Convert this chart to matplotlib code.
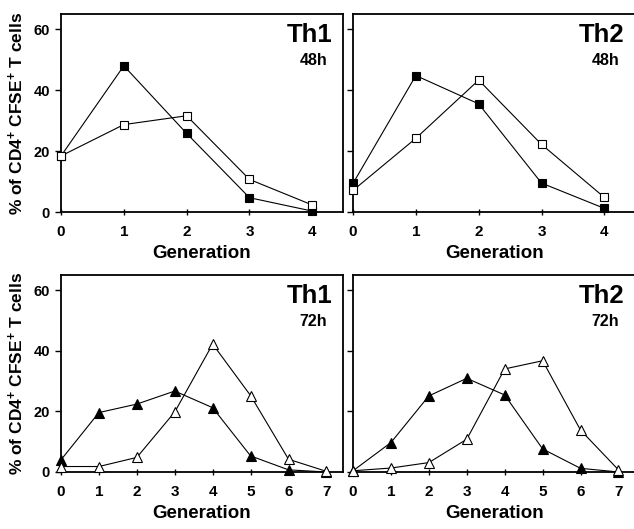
import matplotlib
matplotlib.use("Agg")
import matplotlib.pyplot as plt
import numpy as np

plt.rcParams['font.family'] = ['Liberation Sans', 'DejaVu Sans']
plt.rcParams['font.weight'] = 'bold'
plt.rcParams['mathtext.fontset'] = 'custom'
plt.rcParams['mathtext.rm'] = 'Liberation Sans:bold'
plt.rcParams['mathtext.bf'] = 'Liberation Sans:bold'
plt.rcParams['mathtext.it'] = 'Liberation Sans:bold'

# ---------- DATA ----------
gen_48 = [0, 1, 2, 3, 4]
gen_72 = [0, 1, 2, 3, 4, 5, 6, 7]

th1_48_filled = [18.4, 48.0, 25.8, 4.7, 0.3]
th1_48_open = [18.4, 28.7, 31.6, 10.7, 2.3]
th2_48_filled = [9.4, 44.8, 35.5, 9.5, 1.2]
th2_48_open = [7.1, 24.2, 43.3, 22.2, 4.8]

th1_72_filled = [4.0, 19.6, 22.4, 26.7, 21.2, 5.3, 0.7, 0.0]
th1_72_open = [1.8, 1.8, 4.8, 19.8, 42.2, 25.2, 4.2, 0.2]
th2_72_filled = [0.4, 9.7, 25.1, 30.9, 25.4, 7.6, 1.2, 0.0]
th2_72_open = [0.4, 1.3, 3.1, 10.8, 34.0, 36.7, 13.8, 0.7]

yticks = [0, 20, 40, 60]

panels = [
    # (rect, x, filled, open, marker, title, time, ylabel, xmax)
    ([0.0962, 0.5992, 0.445, 0.3743], gen_48, th1_48_filled, th1_48_open, 's', 'Th1', '48h', True, 4.49),
    ([0.5568, 0.5992, 0.445, 0.3743], gen_48, th2_48_filled, th2_48_open, 's', 'Th2', '48h', False, 4.49),
    ([0.0962, 0.1078, 0.445, 0.3724], gen_72, th1_72_filled, th1_72_open, '^', 'Th1', '72h', True, 7.44),
    ([0.5568, 0.1078, 0.445, 0.3724], gen_72, th2_72_filled, th2_72_open, '^', 'Th2', '72h', False, 7.44),
]

fig = plt.figure(figsize=(6.34, 5.29), dpi=100, facecolor='white')

for rect, x, filled, opn, mk, title, tlabel, show_ylabel, xmax in panels:
    ax = fig.add_axes(rect)
    ms = 6.2 if mk == 's' else 7.5
    ax.plot(x, filled, color='black', lw=0.8, marker=mk, ms=ms,
            mfc='black', mec='black', mew=0.8, clip_on=False, zorder=3)
    ax.plot(x, opn, color='black', lw=0.8, marker=mk, ms=ms,
            mfc='white', mec='black', mew=0.8, clip_on=False, zorder=4)

    ax.set_xlim(0, xmax)
    ax.set_ylim(0, 65)
    ax.set_xticks(x)
    ax.set_yticks(yticks)
    if show_ylabel:
        ax.set_yticklabels([str(v) for v in yticks])
        ax.set_ylabel('% of CD4$^{+}$ CFSE$^{+}$ T cells', fontsize=12.5,
                      fontweight='bold')
        ax.yaxis.set_label_coords(-0.125, 0.5)
    else:
        ax.set_yticklabels([])
    ax.set_xlabel('Generation', fontsize=13.5, fontweight='bold', labelpad=4)

    ax.tick_params(axis='y', direction='out', length=4, width=1, labelsize=10.5, pad=4)
    ax.tick_params(axis='x', direction='inout', length=5, width=1, labelsize=11, pad=7)
    for s in ax.spines.values():
        s.set_linewidth(1.3)

    ax.text(0.881, 0.894, title, transform=ax.transAxes, ha='center', va='center',
            fontsize=18.5, fontweight='bold')
    ax.text(0.894, 0.763, tlabel, transform=ax.transAxes, ha='center', va='center',
            fontsize=11.5, fontweight='bold')

plt.savefig('out.png', dpi=100, facecolor='white')
